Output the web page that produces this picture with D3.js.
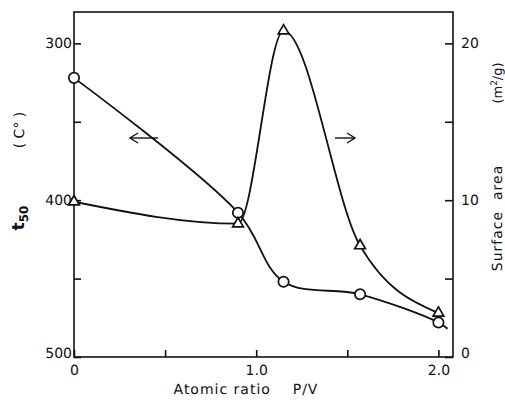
<!DOCTYPE html>
<html><head><meta charset="utf-8">
<script src="https://cdn.jsdelivr.net/npm/d3@7"></script>
<style>
html,body{margin:0;padding:0;background:#fff;}
text{font-family:"DejaVu Sans",sans-serif;fill:#111;text-rendering:geometricPrecision;}
</style></head>
<body><svg id="c" width="505" height="413"></svg>
<script>
// Data
const ratioPV = [0, 0.9, 1.15, 1.57, 2.0];
const t50Values = [322, 408, 452, 460, 478];          // circles, left axis (°C)
const t50Tail = [2.05, 482];                          // line continues slightly past last circle
const surfaceArea = [9.9, 8.5, 20.8, 7.1, 2.8];       // triangles, right axis (m2/g)
const xTicks = [0, 0.5, 1.0, 1.5, 2.0];
const xTickLabels = ["0", "", "1.0", "", "2.0"];
const leftTicks = [300, 350, 400, 450, 500];
const leftTickLabels = ["300", "", "400", "", "500"];
const rightTicks = [0, 5, 10, 15, 20];
const rightTickLabels = ["0", "", "10", "", "20"];

const svg = d3.select("#c");
const L = 74, R = 453, T = 12, B = 357;
const x = d3.scaleLinear().domain([0, 2.08]).range([L, R]);
const yL = d3.scaleLinear().domain([500, 280]).range([B, T]);
const yR = d3.scaleLinear().domain([0, 22]).range([B, T]);
const ink = "#111";

// frame
svg.append("rect").attr("x", L).attr("y", T).attr("width", R - L).attr("height", B - T)
  .attr("fill", "none").attr("stroke", ink).attr("stroke-width", 1.6);

// x axis ticks (inside)
const gx = svg.append("g").attr("transform", `translate(0,${B})`)
  .call(d3.axisBottom(x).tickValues(xTicks).tickSizeInner(-7).tickSizeOuter(0)
    .tickPadding(8).tickFormat((d, i) => xTickLabels[i]));
gx.select(".domain").remove();
gx.selectAll("line").attr("stroke", ink).attr("stroke-width", 1.6);
gx.selectAll("text").attr("font-size", 14).attr("dy", "0.72em").attr("fill", ink);

// left axis
const gl = svg.append("g").attr("transform", `translate(${L},0)`)
  .call(d3.axisLeft(yL).tickValues(leftTicks).tickSizeInner(-7).tickSizeOuter(0)
    .tickPadding(9).tickFormat((d, i) => leftTickLabels[i]));
gl.select(".domain").remove();
gl.selectAll("line").attr("stroke", ink).attr("stroke-width", 1.6);
gl.selectAll("text").attr("font-size", 14).attr("x", -2).attr("fill", ink);
gl.selectAll(".tick").filter(d => d === 500).select("text").attr("dy", "0.0em");

// right axis
const gr = svg.append("g").attr("transform", `translate(${R},0)`)
  .call(d3.axisRight(yR).tickValues(rightTicks).tickSizeInner(-8).tickSizeOuter(0)
    .tickPadding(9).tickFormat((d, i) => rightTickLabels[i]));
gr.select(".domain").remove();
gr.selectAll("line").attr("stroke", ink).attr("stroke-width", 1.6);
gr.selectAll("text").attr("font-size", 14).attr("x", 8).attr("fill", ink);
gr.selectAll(".tick").filter(d => d === 0).select("text").attr("dy", "0.0em");

// lines
const circPts = ratioPV.map((r, i) => [r, t50Values[i]]);
const triPts = ratioPV.map((r, i) => [r, surfaceArea[i]]);
const lineL = d3.line().x(d => x(d[0])).y(d => yL(d[1])).curve(d3.curveCatmullRom.alpha(0.5));
const lineR = d3.line().x(d => x(d[0])).y(d => yR(d[1])).curve(d3.curveMonotoneX);
svg.append("path").attr("d", lineL(circPts.concat([t50Tail])))
  .attr("fill", "none").attr("stroke", ink).attr("stroke-width", 1.8);
svg.append("path").attr("d", lineR(triPts))
  .attr("fill", "none").attr("stroke", ink).attr("stroke-width", 1.8);

// markers
svg.selectAll(".circ").data(circPts).enter().append("circle")
  .attr("cx", d => x(d[0])).attr("cy", d => yL(d[1])).attr("r", 5.2)
  .attr("fill", "#fff").attr("stroke", ink).attr("stroke-width", 1.7);
const tri = d3.symbol().type(d3.symbolTriangle).size(50);
svg.selectAll(".tri").data(triPts).enter().append("path")
  .attr("d", tri).attr("transform", d => `translate(${x(d[0])},${yR(d[1])})`)
  .attr("fill", "#fff").attr("stroke", ink).attr("stroke-width", 1.7);

// arrows
function arrow(x1, x2, yy) {
  const dir = Math.sign(x2 - x1);
  svg.append("line").attr("x1", x1).attr("x2", x2).attr("y1", yy).attr("y2", yy)
    .attr("stroke", ink).attr("stroke-width", 1.4);
  svg.append("path").attr("d", `M${x2 - dir * 8},${yy - 5}L${x2},${yy}L${x2 - dir * 8},${yy + 5}`)
    .attr("fill", "none").attr("stroke", ink).attr("stroke-width", 1.4);
}
arrow(158, 130, 138);
arrow(335, 355, 138);

// axis titles
svg.append("text").attr("x", 246).attr("y", 394).attr("text-anchor", "middle")
  .attr("font-size", 14).attr("letter-spacing", "1px").attr("xml:space", "preserve")
  .attr("fill", ink).text("Atomic ratio    P/V");
const lt = svg.append("text").attr("transform", "translate(24,218) rotate(-90)")
  .attr("text-anchor", "middle").attr("font-size", 17).attr("font-weight", "bold").attr("fill", ink);
lt.append("tspan").text("t");
lt.append("tspan").attr("font-size", 12).attr("dy", 4).text("50");
const ct = svg.append("text").attr("transform", "translate(24,130) rotate(-90)")
  .attr("text-anchor", "middle").attr("font-size", 14).attr("fill", "#111")
  .attr("xml:space", "preserve");
ct.text("( C° )");
svg.append("text").attr("transform", "translate(502,218) rotate(-90)")
  .attr("text-anchor", "middle").attr("font-size", 14).attr("letter-spacing", "1px")
  .attr("xml:space", "preserve").attr("fill", ink).text("Surface  area");
const mt = svg.append("text").attr("transform", "translate(502,83) rotate(-90)")
  .attr("text-anchor", "middle").attr("font-size", 13).attr("fill", ink);
mt.append("tspan").text("(m");
mt.append("tspan").attr("font-size", 9).attr("dy", -5).text("2");
mt.append("tspan").attr("dy", 5).text("/g)");
</script></body></html>
